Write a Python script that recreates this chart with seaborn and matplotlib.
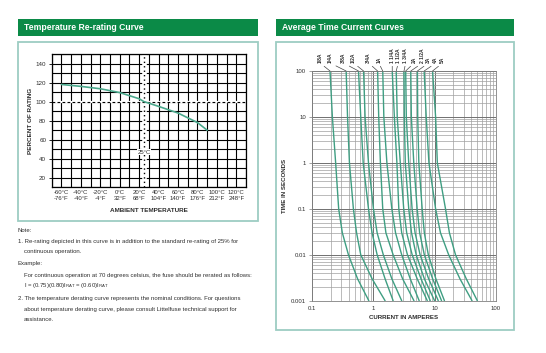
import matplotlib
matplotlib.use("Agg")
import matplotlib.pyplot as plt
import seaborn as sns
import pandas as pd
from matplotlib.patches import Rectangle
from matplotlib.ticker import LogLocator, FixedLocator, FixedFormatter, NullFormatter, MultipleLocator

sns.set_theme(style="white")
plt.rcParams['font.family'] = ['Liberation Sans', 'DejaVu Sans']

# ---------------- data: temperature re-rating curve ----------------
temp_c = [-60, -40, -20, 0, 20, 25, 40, 60, 80, 90]
pct_rating = [118, 116, 113.5, 109.5, 103, 100, 95, 88, 78, 70]
temp_ticks_c = [-60, -40, -20, 0, 20, 40, 60, 80, 100, 120]
temp_ticks_f = [-76, -40, -4, 32, 68, 104, 140, 176, 212, 248]
pct_ticks = [20, 40, 60, 80, 100, 120, 140]

# ---------------- data: average time current curves ----------------
fuse_ratings = ["1/8A", "1/4A", "3/8A", "1/2A", "3/4A", "1A", "1 1/4A", "1 1/2A",
                "1 3/4A", "2A", "2 1/2A", "3A", "4A", "5A"]
time_points = [100, 10, 1, 0.1, 0.03, 0.01, 0.003, 0.001]
amps_at_100s = [0.195, 0.358, 0.57, 0.69, 1.17, 1.42, 2.03, 2.36, 3.16, 3.37, 4.08, 5.24, 6.76, 9.27]
amps_at_10s = [0.213, 0.377, 0.62, 0.73, 1.22, 1.48, 2.2, 2.45, 3.2, 3.45, 4.17, 5.3, 7.3, 10.4]
amps_at_1s = [0.241, 0.405, 0.68, 0.83, 1.3, 1.66, 2.42, 2.75, 3.32, 3.78, 4.57, 5.53, 8.09, 11.1]
amps_at_0p1s = [0.27, 0.47, 0.83, 1.0, 1.42, 2.0, 2.6, 3.13, 3.78, 4.29, 5.19, 6.27, 10.4, 15.1]
amps_at_0p03s = [0.31, 0.53, 0.95, 1.15, 1.6, 2.3, 2.9, 3.5, 4.2, 4.8, 5.7, 6.8, 12.5, 17.5]
amps_at_0p01s = [0.39, 0.62, 1.15, 1.45, 2.1, 2.9, 3.6, 4.3, 5.0, 5.8, 6.8, 7.9, 17.0, 22.0]
amps_at_0p003s = [0.55, 0.95, 1.55, 2.0, 3.0, 4.0, 5.2, 6.0, 6.8, 8.0, 9.3, 10.5, 26.0, 33.0]
amps_at_0p001s = [0.84, 1.55, 2.1, 2.9, 4.6, 5.6, 7.6, 8.5, 10.0, 11.5, 13.0, 14.5, 41.0, 50.0]
current_ticks = [0.1, 1, 10, 100]
current_tick_labels = ["0.1", "1", "10", "100"]
time_ticks = [0.001, 0.01, 0.1, 1, 10, 100]
time_tick_labels = ["0.001", "0.01", "0.1", "1", "10", "100"]

# ---------------- layout helpers ----------------
W, H = 546, 353
fig = plt.figure(figsize=(W / 100, H / 100), dpi=100)
fig.patch.set_facecolor("white")

def fx(px):
    return px / W

def fy(py):
    return 1 - py / H

GREEN = "#0b8a47"
BORDER = "#9dcdc3"
CURVE = "#3f9e82"
TEXT = "#2e2e2e"

def panel(x0, x1, y0, y1, title):
    fig.patches.append(Rectangle((fx(x0), fy(36)), fx(x1) - fx(x0), fy(19) - fy(36),
                                 transform=fig.transFigure, facecolor=GREEN,
                                 edgecolor="none", zorder=0))
    fig.text(fx(x0 + 6), fy(27.5), title, color="white", fontsize=6.2,
             fontweight="bold", va="center", ha="left")
    fig.patches.append(Rectangle((fx(x0), fy(y1)), fx(x1) - fx(x0), fy(y0) - fy(y1),
                                 transform=fig.transFigure, facecolor="none",
                                 edgecolor=BORDER, lw=1.3, zorder=0))

panel(18.3, 257.5, 42.3, 220.7, "Temperature Re-rating Curve")
panel(275.7, 514.3, 42.3, 330, "Average Time Current Curves")

# ---------------- left chart ----------------
ax1 = fig.add_axes([fx(51.7), fy(187.3), fx(246) - fx(51.7), fy(54) - fy(187.3)])
df_temp = pd.DataFrame({"temp": temp_c, "pct": pct_rating})
ax1.set_xlim(-70, 130)
ax1.set_ylim(10, 150)
ax1.xaxis.set_minor_locator(MultipleLocator(10))
ax1.yaxis.set_minor_locator(MultipleLocator(10))
ax1.grid(which="both", color="black", lw=0.8, zorder=1)
ax1.set_axisbelow(True)
ax1.axhline(100, color="white", lw=1.6, zorder=2)
ax1.axhline(100, color="black", lw=0.8, ls=(0, (2.5, 2)), zorder=3)
ax1.axvline(25, color="white", lw=3.3, zorder=2)
ax1.axvline(25, color="black", lw=1.0, ls=(0, (1, 2.2)), zorder=3)
sns.lineplot(data=df_temp, x="temp", y="pct", ax=ax1, color="#4aa88c", lw=1.2,
             sort=False, estimator=None, zorder=4)
ax1.text(25, 47, "25°C", fontsize=4.3, ha="center", va="center", color=TEXT,
         bbox=dict(facecolor="white", edgecolor="none", pad=0.6), zorder=5)
ax1.set_xticks(temp_ticks_c)
ax1.set_xticklabels([f"{c}°C\n{f}°F" for c, f in zip(temp_ticks_c, temp_ticks_f)],
                    fontsize=4.3, color=TEXT, linespacing=1.3)
ax1.set_yticks(pct_ticks)
ax1.set_yticklabels([str(p) for p in pct_ticks], fontsize=4.5, color=TEXT)
ax1.tick_params(axis="both", which="major", length=0, pad=2)
ax1.tick_params(axis="y", which="major", left=True, length=2, width=0.6, color="black")
for s in ax1.spines.values():
    s.set_color("black")
    s.set_linewidth(0.9)
ax1.set_xlabel("AMBIENT TEMPERATURE", fontsize=4.6, fontweight="bold", color=TEXT, labelpad=5)
ax1.set_ylabel("PERCENT OF RATING", fontsize=4.6, fontweight="bold", color=TEXT, labelpad=2)

# ---------------- notes ----------------
notes = [
    (18, 231, "Note:"),
    (18, 242, "1. Re-rating depicted in this curve is in addition to the standard re-rating of 25% for"),
    (24, 251.5, "continuous operation."),
    (18, 264, "Example:"),
    (24, 275, "For continuous operation at 70 degrees celsius, the fuse should be rerated as follows:"),
    (24, 286, r"I = (0.75)(0.80)I$_{\mathregular{RAT}}$ = (0.60)I$_{\mathregular{RAT}}$"),
    (18, 298.5, "2. The temperature derating curve represents the nominal conditions. For questions"),
    (24, 309, "about temperature derating curve, please consult Littelfuse technical support for"),
    (24, 319.5, "assistance."),
]
for x, y, t in notes:
    fig.text(fx(x), fy(y), t, fontsize=4.35, color=TEXT, ha="left", va="center")

# ---------------- right chart ----------------
rows = []
for i, name in enumerate(fuse_ratings):
    series = [amps_at_100s[i], amps_at_10s[i], amps_at_1s[i], amps_at_0p1s[i],
              amps_at_0p03s[i], amps_at_0p01s[i], amps_at_0p003s[i], amps_at_0p001s[i]]
    for t, a in zip(time_points, series):
        rows.append({"rating": name, "current": a, "time": t})
df_tcc = pd.DataFrame(rows)

ax2 = fig.add_axes([fx(312.3), fy(300.7), fx(495.7) - fx(312.3), fy(71) - fy(300.7)])
ax2.set_xscale("log")
ax2.set_yscale("log")
ax2.set_xlim(0.1, 100)
ax2.set_ylim(0.001, 100)
ax2.xaxis.set_minor_locator(LogLocator(base=10, subs=range(2, 10)))
ax2.yaxis.set_minor_locator(LogLocator(base=10, subs=range(2, 10)))
ax2.xaxis.set_minor_formatter(NullFormatter())
ax2.yaxis.set_minor_formatter(NullFormatter())
ax2.grid(which="major", color="#6f6f6f", lw=0.7)
ax2.grid(which="minor", color="#a0a0a0", lw=0.5)
ax2.set_axisbelow(True)
sns.lineplot(data=df_tcc, x="current", y="time", hue="rating", units="rating",
             palette=[CURVE] * len(fuse_ratings), estimator=None, sort=False,
             lw=1.0, legend=False, ax=ax2)
ax2.xaxis.set_major_locator(FixedLocator(current_ticks))
ax2.xaxis.set_major_formatter(FixedFormatter(current_tick_labels))
ax2.yaxis.set_major_locator(FixedLocator(time_ticks))
ax2.yaxis.set_major_formatter(FixedFormatter(time_tick_labels))
ax2.tick_params(axis="both", which="major", labelsize=4.3, labelcolor=TEXT, length=0, pad=4)
ax2.tick_params(axis="y", which="major", left=True, length=2.5, width=0.5, color="#7d7d7d", pad=2)
for s in ax2.spines.values():
    s.set_color("#808080")
    s.set_linewidth(0.6)
ax2.set_xlabel("CURRENT IN AMPERES", fontsize=4.4, fontweight="bold", color=TEXT, labelpad=3)
ax2.set_ylabel("TIME IN SECONDS", fontsize=4.4, fontweight="bold", color=TEXT, labelpad=3)

# rating labels with leader lines (horizontal offsets in pixels from curve top)
label_dx_px = [-10, -16, -15, -10, -9, -4, 0, 2, 1.7, 8.3, 11.6, 11, 11.7, 10]
for name, a, dx in zip(fuse_ratings, amps_at_100s, label_dx_px):
    ax2.annotate(name, xy=(a, 100), xytext=(dx, 8), textcoords="offset pixels",
                 rotation=90, fontsize=3.6, fontweight="bold", color=TEXT,
                 ha="center", va="bottom", annotation_clip=False,
                 arrowprops=dict(arrowstyle="-", color="#444444", lw=0.5,
                                 shrinkA=0, shrinkB=0, relpos=(0.5, 0)))

fig.savefig("out.png", dpi=100, facecolor="white")
